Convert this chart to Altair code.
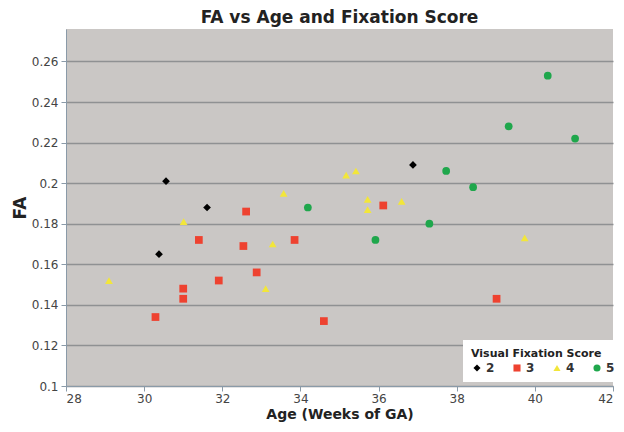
import altair as alt
import pandas as pd

# Visual fixation score groups
score2_age = [30.56, 31.61, 30.38, 36.88]
score2_fa = [0.201, 0.188, 0.165, 0.209]

score3_age = [32.61, 31.40, 32.54, 32.88, 31.91, 31.00, 31.00, 30.29, 33.85, 34.60, 36.12, 39.02]
score3_fa = [0.186, 0.172, 0.169, 0.156, 0.152, 0.148, 0.143, 0.134, 0.172, 0.132, 0.189, 0.143]

score4_age = [31.01, 29.10, 35.17, 35.42, 33.57, 35.72, 35.72, 36.59, 33.29, 33.11, 39.74]
score4_fa = [0.181, 0.152, 0.204, 0.206, 0.195, 0.192, 0.187, 0.191, 0.170, 0.148, 0.173]

score5_age = [34.19, 35.92, 37.30, 37.73, 38.42, 39.33, 40.33, 41.03]
score5_fa = [0.188, 0.172, 0.180, 0.206, 0.198, 0.228, 0.253, 0.222]

scores = ["2", "3", "4", "5"]
x_ticks = [28, 30, 32, 34, 36, 38, 40, 42]
y_ticks = [0.1, 0.12, 0.14, 0.16, 0.18, 0.2, 0.22, 0.24, 0.26]

rows = []
for s, ages, fas in zip(scores, [score2_age, score3_age, score4_age, score5_age],
                        [score2_fa, score3_fa, score4_fa, score5_fa]):
    for a, f in zip(ages, fas):
        rows.append({"Age": a, "FA": f, "Score": s})
df = pd.DataFrame(rows)

FONT = "DejaVu Sans"

chart = alt.Chart(df).mark_point(filled=True, opacity=1, size=60).encode(
    x=alt.X("Age:Q", scale=alt.Scale(domain=[28, 42], nice=False, zero=False),
            axis=alt.Axis(values=x_ticks, title="Age (Weeks of GA)", grid=False,
                          tickSize=5, labelPadding=2, titlePadding=3)),
    y=alt.Y("FA:Q", scale=alt.Scale(domain=[0.1, 0.276], nice=False, zero=False),
            axis=alt.Axis(values=y_ticks, title="FA", format=".2~f", grid=True,
                          tickSize=5, labelPadding=3, titlePadding=2)),
    color=alt.Color("Score:N", scale=alt.Scale(domain=scores,
                    range=["#000000", "#ee4230", "#f2e63a", "#1fa74c"]),
                    legend=alt.Legend(title="Visual Fixation Score")),
    shape=alt.Shape("Score:N", scale=alt.Scale(domain=scores,
                    range=["diamond", "square", "triangle-up", "circle"]),
                    legend=alt.Legend(title="Visual Fixation Score")),
).properties(
    width=547, height=357,
    autosize=alt.AutoSizeParams(type="none"),
    padding={"left": 58, "top": 21, "right": 3, "bottom": 38},
    title=alt.TitleParams("FA vs Age and Fixation Score", fontSize=17, font=FONT,
                          fontWeight="bold", color="#222", offset=2, anchor="middle"),
).configure_view(
    fill="#cac7c5", stroke=None
).configure_axis(
    labelFont=FONT, labelFontSize=12, labelColor="#444",
    titleFont=FONT, titleFontWeight="bold", titleColor="#222",
    domainColor="#8a9aa8", tickColor="#8a9aa8", gridColor="#8f9193", gridWidth=1.5,
).configure_axisX(
    titleFontSize=14
).configure_axisY(
    titleFontSize=17
).configure_legend(
    orient="none", legendX=397, legendY=311, direction="horizontal", columns=4,
    fillColor="white", padding=8, titleFont=FONT, titleFontSize=11, titleColor="#222",
    labelFont=FONT, labelFontSize=12, labelFontWeight="bold", labelColor="#333",
    symbolSize=50, columnPadding=16, labelOffset=3, titlePadding=3,
)

chart.save("out.html", embed_options={"renderer": "svg", "actions": False})
